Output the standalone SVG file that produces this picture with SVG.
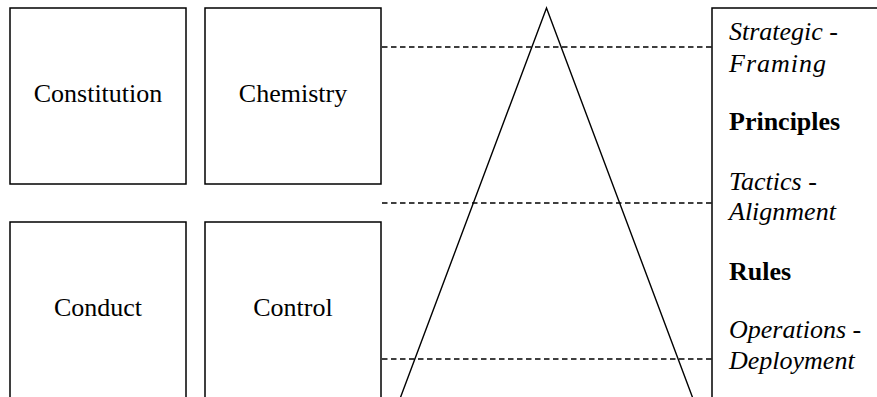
<svg xmlns="http://www.w3.org/2000/svg" width="877" height="397" viewBox="0 0 877 397">
<style>
.box{fill:#fff;stroke:#000;stroke-width:1.5}
.lbl{font-family:"Liberation Serif","Times New Roman",serif;font-size:26px;fill:#000}
.c{text-anchor:middle}
.i{font-style:italic}
.b{font-weight:bold}
.dash{stroke:#000;stroke-width:1.4;stroke-dasharray:5.5 3.5;fill:none}
.tri{stroke:#000;stroke-width:1.4;fill:none}
</style>
<rect width="877" height="397" fill="#fff"/>
<g id="constitution"><rect class="box" x="10" y="8" width="176" height="176"/><text class="lbl c" x="98" y="102">Constitution</text></g>
<g id="chemistry"><rect class="box" x="205" y="8" width="176" height="176"/><text class="lbl c" x="293" y="102">Chemistry</text></g>
<g id="conduct"><rect class="box" x="10" y="222" width="176" height="190"/><text class="lbl c" x="98" y="316">Conduct</text></g>
<g id="control"><rect class="box" x="205" y="222" width="176" height="190"/><text class="lbl c" x="293" y="316">Control</text></g>
<g id="connectors">
<line class="dash" x1="382" y1="47" x2="712" y2="47"/>
<line class="dash" x1="382" y1="203" x2="712" y2="203"/>
<line class="dash" x1="382" y1="359" x2="712" y2="359"/>
<polyline class="tri" points="399.5,400 546.5,8 693.5,400"/>
</g>
<g id="levels">
<rect class="box" x="712" y="8" width="180" height="400"/>
<text class="lbl i" x="729" y="40">Strategic -</text>
<text class="lbl i" x="729" y="72" letter-spacing="1">Framing</text>
<text class="lbl b" x="729" y="130">Principles</text>
<text class="lbl i" x="729" y="190">Tactics -</text>
<text class="lbl i" x="729" y="220">Alignment</text>
<text class="lbl b" x="729" y="280">Rules</text>
<text class="lbl i" x="729" y="338">Operations -</text>
<text class="lbl i" x="729" y="369">Deployment</text>
</g>
</svg>
